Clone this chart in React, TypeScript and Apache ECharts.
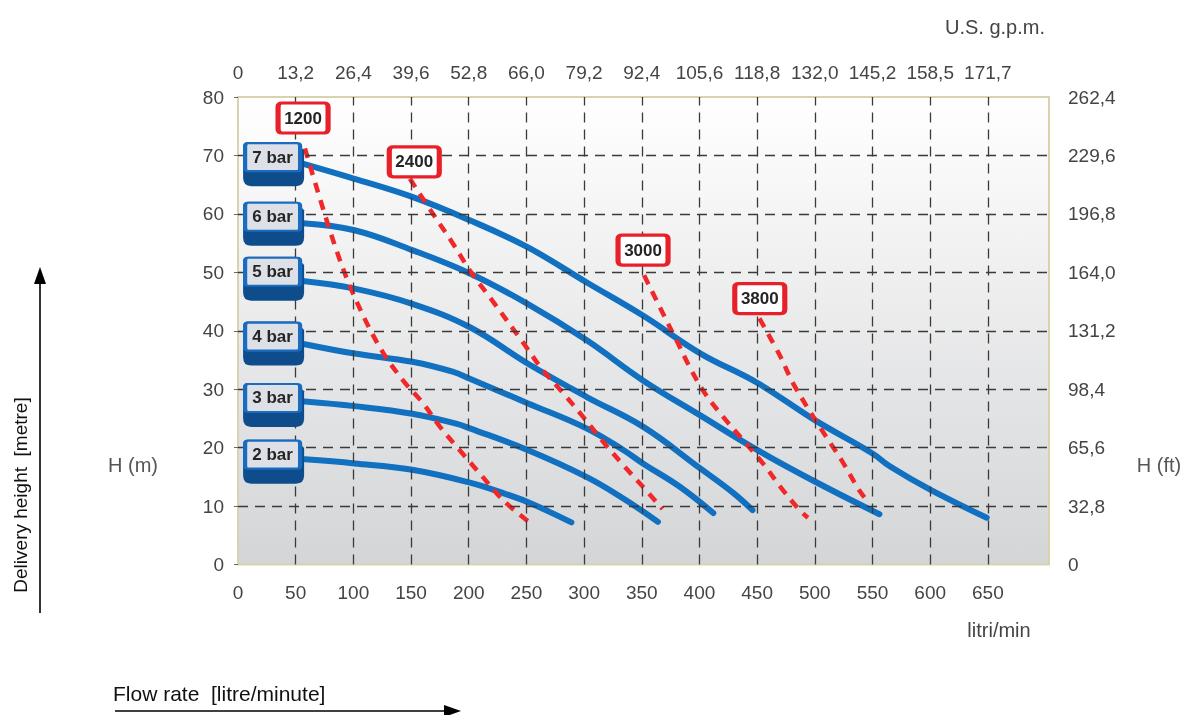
import React, { useEffect, useRef } from "react";
import * as echarts from "echarts";

// ---- axis tick labels ----
const gpmLabels = ["0", "13,2", "26,4", "39,6", "52,8", "66,0", "79,2", "92,4", "105,6", "118,8", "132,0", "145,2", "158,5", "171,7"];
const ftLabels = ["0", "32,8", "65,6", "98,4", "131,2", "164,0", "196,8", "229,6", "262,4"];
const gridFlow = [50, 100, 150, 200, 250, 300, 350, 400, 450, 500, 550, 600, 650];
const gridHead = [10, 20, 30, 40, 50, 60, 70];

// ---- pump curves (flow l/min, head m) ----
const bar7 = [[56, 68.6], [101, 66.0], [151, 62.9], [201, 58.9], [251, 54.3], [302, 48.3], [351, 42.6], [401, 36.1], [450, 31.1], [500, 24.7], [550, 19.0], [565, 16.8], [600, 12.8], [649, 8.0]];
const bar6 = [[56, 58.4], [101, 57.2], [151, 53.8], [201, 49.8], [251, 44.6], [302, 38.4], [351, 31.5], [400, 25.6], [450, 19.6], [500, 14.2], [556, 8.6]];
const bar5 = [[56, 48.5], [101, 47.2], [151, 44.6], [201, 40.6], [251, 34.4], [302, 28.7], [351, 23.6], [401, 16.4], [429, 12.3], [446, 9.3]];
const bar4 = [[58, 37.7], [101, 36.1], [151, 34.7], [186, 33.0], [201, 31.8], [251, 27.6], [302, 23.3], [334, 19.6], [351, 17.3], [383, 13.3], [412, 8.8]];
const bar3 = [[58, 27.9], [101, 27.1], [151, 25.8], [189, 24.1], [201, 23.3], [251, 19.6], [302, 15.0], [334, 11.3], [364, 7.3]];
const bar2 = [[58, 18.0], [101, 17.3], [151, 16.2], [201, 14.0], [230, 12.2], [251, 10.7], [270, 9.0], [289, 7.2]];
const barCurves = [bar7, bar6, bar5, bar4, bar3, bar2];

// ---- speed lines (red dashed) ----
const rpm1200 = [[58, 71.2], [82.4, 55.5], [99.7, 46.4], [122.8, 37.2], [143, 31.5], [160.4, 27.6], [175, 23.6], [192, 19.6], [209.5, 15.6], [229.8, 11.0], [252, 7.3]];
const rpm2400 = [[149, 66], [169, 60], [186.4, 54.9], [201, 50.3], [218, 45.8], [247, 38], [264, 33.3], [282, 29.3], [299, 25.3], [316.5, 21], [334, 17], [351, 13.3], [368, 9.5]];
const rpm3000 = [[352, 49.5], [368.5, 42.9], [380, 38.4], [391.5, 33.8], [404, 29.5], [420.4, 25.3], [437.8, 21.3], [455, 17.3], [472.5, 12.7], [485.5, 9.6], [494, 8.0]];
const rpm3800 = [[452, 42.1], [469.6, 35.8], [481.2, 31.0], [497, 25.8], [510, 21.8], [523, 17.9], [537.5, 13.0], [543, 11.5]];
const rpmCurves = [rpm1200, rpm2400, rpm3000, rpm3800];

// ---- annotation boxes ----
const barLabels = ["7 bar", "6 bar", "5 bar", "4 bar", "3 bar", "2 bar"];
const barLabelFlow = 30;
const barLabelHead = [69.7, 59.5, 50.1, 39.0, 28.5, 18.8];
const rpmLabels = ["1200", "2400", "3000", "3800"];
const rpmLabelFlow = [56.4, 152.8, 351.1, 452.3];
const rpmLabelHead = [76.4, 68.9, 53.8, 45.5];

const FONT = "'Liberation Sans', Arial, sans-serif";

const RED_BOX = "path://M4,0 H46 Q50,0 50,4 V26 Q50,30 46,30 H4 Q0,30 0,26 V4 Q0,0 4,0 Z";
const FACE_BOX = "path://M3,0 H52 Q55,0 55,3 V25 Q55,28 52,28 H3 Q0,28 0,25 V3 Q0,0 3,0 Z";
const BLOCK = "path://M5,0 H52 L60,8 V34 Q60,42 52,42 H8 Q0,42 0,34 V5 Q0,0 5,0 Z";

export default function App() {
  const ref = useRef<HTMLDivElement>(null);
  useEffect(() => {
    if (!ref.current) return;
    const chart = echarts.init(ref.current, undefined, { renderer: "svg" });
    const axisLabel = { fontSize: 19, color: "#444", fontFamily: FONT };
    const series: any[] = [];
    series.push({
      type: "line",
      data: [],
      symbol: "none",
      silent: true,
      z: 1,
      markLine: {
        silent: true,
        symbol: ["none", "none"],
        label: { show: false },
        lineStyle: { color: "#3a3a3a", width: 1.3, type: [10, 7] },
        data: [...gridFlow.map((v) => ({ xAxis: v })), ...gridHead.map((v) => ({ yAxis: v }))],
      },
    });
    barCurves.forEach((d, i) => {
      series.push({
        type: "line",
        name: barLabels[i],
        data: d,
        smooth: 0.4,
        symbol: "none",
        z: 3,
        lineStyle: { color: "#1170c0", width: 6, cap: "round" },
      });
    });
    rpmCurves.forEach((d, i) => {
      series.push({
        type: "line",
        name: rpmLabels[i],
        data: d,
        smooth: 0.35,
        symbol: "none",
        z: 4,
        lineStyle: { color: "#f0282a", width: 4.5, type: [10, 8] },
      });
    });
    series.push({
      type: "scatter",
      data: barLabelHead.map((h) => [barLabelFlow, h]),
      symbol: BLOCK,
      symbolSize: [61, 44],
      symbolOffset: [1, 7],
      itemStyle: { color: "#0e4c8c", opacity: 1 },
      z: 5,
      silent: true,
    });
    series.push({
      type: "scatter",
      data: barLabels.map((n, i) => ({ name: n, value: [barLabelFlow, barLabelHead[i]] })),
      symbol: FACE_BOX,
      symbolSize: [55, 28],
      itemStyle: { color: "#dde1e7", borderColor: "#1a6cc0", borderWidth: 3, opacity: 1 },
      label: { show: true, position: "inside", formatter: "{b}", fontSize: 17, fontWeight: "bold", color: "#252525", fontFamily: FONT },
      z: 6,
      silent: true,
    });
    series.push({
      type: "scatter",
      data: rpmLabels.map((n, i) => ({ name: n, value: [rpmLabelFlow[i], rpmLabelHead[i]] })),
      symbol: RED_BOX,
      symbolSize: [50, 30],
      itemStyle: { color: "#ffffff", borderColor: "#e8202a", borderWidth: 4, opacity: 1 },
      label: { show: true, position: "inside", formatter: "{b}", fontSize: 17, fontWeight: "bold", color: "#252525", fontFamily: FONT },
      z: 6,
      silent: true,
    });

    chart.setOption({
      animation: false,
      grid: {
        left: 238,
        right: 143,
        top: 97,
        bottom: 150.5,
        show: true,
        backgroundColor: new echarts.graphic.LinearGradient(0, 0, 0, 1, [
          { offset: 0, color: "#ffffff" },
          { offset: 1, color: "#d4d5d7" },
        ]),
        borderColor: "#d9d2b0",
        borderWidth: 2,
      },
      xAxis: [
        {
          type: "value",
          min: 0,
          max: 703,
          interval: 50,
          position: "bottom",
          axisLine: { show: false },
          axisTick: { show: false },
          splitLine: { show: false },
          axisLabel: { ...axisLabel, margin: 18, formatter: (v: number) => (v <= 650 ? String(v) : "") },
        },
        {
          type: "value",
          min: 0,
          max: 703,
          interval: 50,
          position: "top",
          axisLine: { show: false },
          axisTick: { show: false },
          splitLine: { show: false },
          axisLabel: {
            ...axisLabel,
            margin: 15,
            formatter: (v: number) => {
              const i = v / 50;
              return Number.isInteger(i) && i < gpmLabels.length ? gpmLabels[i] : "";
            },
          },
        },
      ],
      yAxis: [
        {
          type: "value",
          min: 0,
          max: 80,
          interval: 10,
          position: "left",
          axisLine: { show: false },
          axisTick: { show: true, length: 4, lineStyle: { color: "#666" } },
          splitLine: { show: false },
          axisLabel: { ...axisLabel, margin: 14 },
        },
        {
          type: "value",
          min: 0,
          max: 80,
          interval: 10,
          position: "right",
          axisLine: { show: false },
          axisTick: { show: false },
          splitLine: { show: false },
          axisLabel: {
            ...axisLabel,
            margin: 19,
            formatter: (v: number) => ftLabels[Math.round(v / 10)] ?? "",
          },
        },
      ],
      graphic: [
        { type: "text", x: 995, y: 27, style: { text: "U.S. g.p.m.", font: `20px ${FONT}`, fill: "#444", align: "center", verticalAlign: "middle" } },
        { type: "text", x: 999, y: 630, style: { text: "litri/min", font: `20px ${FONT}`, fill: "#444", align: "center", verticalAlign: "middle" } },
        { type: "text", x: 133, y: 465, style: { text: "H (m)", font: `20px ${FONT}`, fill: "#555", align: "center", verticalAlign: "middle" } },
        { type: "text", x: 1159, y: 465, style: { text: "H (ft)", font: `20px ${FONT}`, fill: "#555", align: "center", verticalAlign: "middle" } },
        { type: "text", x: 20, y: 495, rotation: Math.PI / 2, style: { text: "Delivery height  [metre]", font: `19px ${FONT}`, fill: "#111", align: "center", verticalAlign: "middle" } },
        { type: "text", x: 113, y: 693, style: { text: "Flow rate  [litre/minute]", font: `21px ${FONT}`, fill: "#111", align: "left", verticalAlign: "middle" } },
        { type: "line", shape: { x1: 40, y1: 613, x2: 40, y2: 280 }, style: { stroke: "#000", lineWidth: 1.6 } },
        { type: "polygon", shape: { points: [[40, 267], [34, 284], [46, 284]] }, style: { fill: "#000" } },
        { type: "line", shape: { x1: 115, y1: 711, x2: 448, y2: 711 }, style: { stroke: "#000", lineWidth: 1.6 } },
        { type: "polygon", shape: { points: [[461, 711], [444, 705], [444, 717]] }, style: { fill: "#000" } },
      ],
      series,
    });
    return () => chart.dispose();
  }, []);
  return <div ref={ref} style={{ position: "fixed", left: 0, top: 0, width: 1192, height: 715 }} />;
}
